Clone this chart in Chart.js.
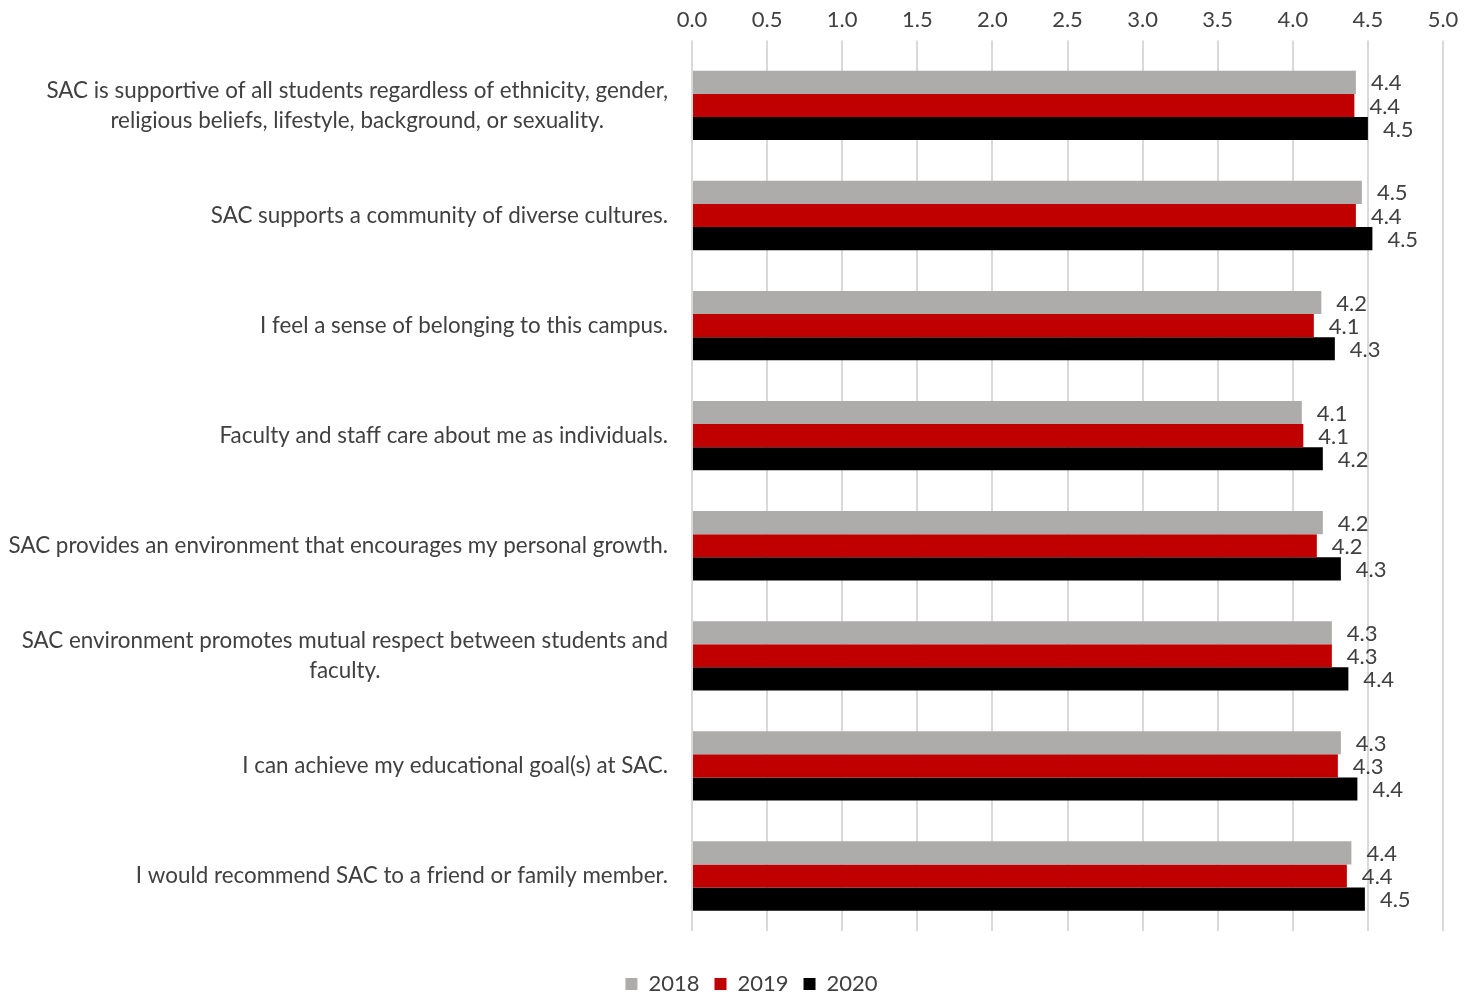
<!DOCTYPE html>
<html>
<head>
<meta charset="utf-8">
<title>SAC campus climate</title>
<script src="https://cdn.jsdelivr.net/npm/chart.js@4/dist/chart.umd.min.js"></script>
<style>
  html, body { margin: 0; padding: 0; background: #fff; }
  #wrap { width: 1473px; height: 996px; position: relative; }
</style>
</head>
<body>
<div id="wrap"><canvas id="chart"></canvas></div>
<script>
// Survey statements (multi-line ones are arrays)
const categories = [
  ['SAC is supportive of all students regardless of ethnicity, gender,', 'religious beliefs, lifestyle, background, or sexuality.'],
  'SAC supports a community of diverse cultures.',
  'I feel a sense of belonging to this campus.',
  'Faculty and staff care about me as individuals.',
  'SAC provides an environment that encourages my personal growth.',
  ['SAC environment promotes mutual respect between students and', 'faculty.'],
  'I can achieve my educational goal(s) at SAC.',
  'I would recommend SAC to a friend or family member.'
];

const seriesNames = ['2018', '2019', '2020'];
const values2018 = [4.42, 4.46, 4.19, 4.06, 4.20, 4.26, 4.32, 4.39];
const values2019 = [4.41, 4.42, 4.14, 4.07, 4.16, 4.26, 4.30, 4.36];
const values2020 = [4.50, 4.53, 4.28, 4.20, 4.32, 4.37, 4.43, 4.48];
const seriesColors = ['#aeabab', '#c00000', '#000000'];

const xTicks = [0, 0.5, 1, 1.5, 2, 2.5, 3, 3.5, 4, 4.5, 5];

const FONT = 'Lato';
const TEXT = '#404040';

// category labels drawn by hand so wrapped lines centre on each other
const categoryLabels = {
  id: 'categoryLabels',
  afterDraw(chart) {
    const ctx = chart.ctx;
    const yScale = chart.scales.y;
    const rightEdge = chart.chartArea.left - 24;
    const lineH = 30;
    ctx.save();
    ctx.font = '22.4px ' + FONT;
    ctx.fillStyle = TEXT;
    ctx.textBaseline = 'middle';
    ctx.textAlign = 'center';
    categories.forEach((cat, i) => {
      const lines = Array.isArray(cat) ? cat : [cat];
      const widest = Math.max(...lines.map(l => ctx.measureText(l).width));
      const cx = rightEdge - widest / 2;
      const yMid = yScale.getPixelForValue(i);
      lines.forEach((line, j) => {
        const y = yMid + (j - (lines.length - 1) / 2) * lineH;
        ctx.fillText(line, cx, y);
      });
    });
    ctx.restore();
  }
};

// value labels at the end of each bar
const valueLabels = {
  id: 'valueLabels',
  afterDatasetsDraw(chart) {
    const ctx = chart.ctx;
    ctx.save();
    ctx.font = '22px ' + FONT;
    ctx.fillStyle = TEXT;
    ctx.textAlign = 'left';
    ctx.textBaseline = 'middle';
    chart.data.datasets.forEach((ds, di) => {
      const meta = chart.getDatasetMeta(di);
      meta.data.forEach((bar, i) => {
        ctx.fillText(ds.data[i].toFixed(1), bar.x + 15, bar.y + 1);
      });
    });
    ctx.restore();
  }
};

const ctx = document.getElementById('chart').getContext('2d');
new Chart(ctx, {
  type: 'bar',
  data: {
    labels: categories.map(c => Array.isArray(c) ? c.join(' ') : c),
    datasets: [values2018, values2019, values2020].map((vals, i) => ({
      label: seriesNames[i],
      data: vals,
      backgroundColor: seriesColors[i],
      borderWidth: 0,
      categoryPercentage: 0.63,
      barPercentage: 1.0
    }))
  },
  options: {
    indexAxis: 'y',
    responsive: true,
    maintainAspectRatio: false,
    animation: false,
    layout: {
      padding: { left: 60, right: 30, top: 0, bottom: -9 }
    },
    scales: {
      x: {
        position: 'top',
        min: 0,
        max: 5,
        afterBuildTicks: scale => {
          scale.ticks = xTicks.map(v => ({ value: v }));
        },
        ticks: {
          callback: v => Number(v).toFixed(1),
          color: TEXT,
          font: { family: FONT, size: 22 },
          padding: 7
        },
        grid: {
          color: '#d9d9d9',
          lineWidth: 2,
          tickLength: 10
        },
        border: { display: false }
      },
      // empty axis that keeps a gap between the bars and the legend
      gap: {
        type: 'linear',
        position: 'bottom',
        display: true,
        ticks: { display: false },
        grid: { display: false, drawTicks: false },
        border: { display: false },
        afterFit: scale => { scale.height = 27; }
      },
      y: {
        display: true,
        ticks: { display: false },
        grid: { display: false, drawTicks: false },
        border: { display: false },
        afterFit: scale => { scale.width = 632; }
      }
    },
    plugins: {
      legend: {
        position: 'bottom',
        labels: {
          color: TEXT,
          font: { family: FONT, size: 22 },
          boxWidth: 12,
          boxHeight: 12,
          padding: 15
        }
      },
      tooltip: { enabled: false }
    }
  },
  plugins: [categoryLabels, valueLabels]
});
</script>
</body>
</html>
